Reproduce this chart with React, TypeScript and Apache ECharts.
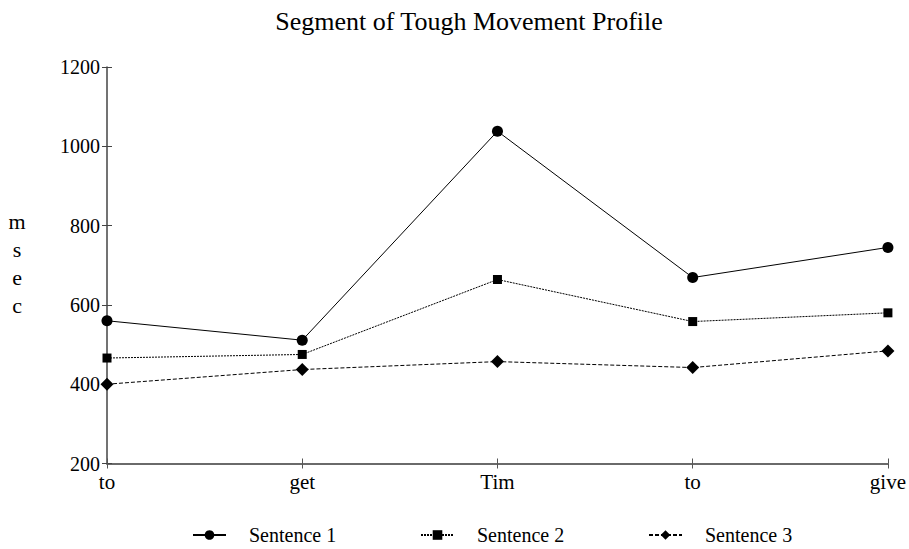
import React, { useEffect, useRef } from "react";
import * as echarts from "echarts";

const categories = ["to", "get", "Tim", "to", "give"];
const sentence1 = [560, 511, 1038, 669, 745];
const sentence2 = [466, 475, 664, 558, 580];
const sentence3 = [400, 437, 457, 442, 484];
const seriesNames = ["Sentence 1", "Sentence 2", "Sentence 3"];
const yTicks = { min: 200, max: 1200, interval: 200 };

const FONT = "'Liberation Serif', 'Times New Roman', serif";

export default function App() {
  const ref = useRef<HTMLDivElement>(null);
  useEffect(() => {
    document.body.style.margin = "0";
    document.body.style.overflow = "hidden";
    if (!ref.current) return;
    const chart = echarts.init(ref.current, null, { renderer: "svg" });
    const legendLefts = [192, 420, 648];
    const xLine = { color: "#6a6a6a", width: 2 };
    const yLine = { color: "#444", width: 1.5 };
    chart.setOption({
      animation: false,
      backgroundColor: "#fff",
      textStyle: { fontFamily: FONT, color: "#000" },
      title: {
        text: "Segment of Tough Movement Profile",
        left: 469,
        textAlign: "center",
        top: 8,
        padding: 0,
        textStyle: { fontFamily: FONT, fontSize: 26, fontWeight: "normal", color: "#000" },
      },
      legend: seriesNames.map((n, i) => ({
        data: [n],
        left: legendLefts[i],
        top: 525,
        padding: 0,
        itemWidth: 33,
        itemHeight: 12,
        textStyle: { fontFamily: FONT, fontSize: 20, color: "#000", padding: [0, 0, 0, 18] },
      })),
      grid: { left: 107, right: 18, top: 67, bottom: 85.5, containLabel: false },
      xAxis: [
        {
          type: "category",
          data: categories,
          boundaryGap: false,
          position: "bottom",
          axisLine: { lineStyle: xLine },
          axisTick: { show: true, alignWithLabel: true, length: 5, lineStyle: { color: "#555", width: 1 } },
          axisLabel: { fontFamily: FONT, fontSize: 21, color: "#000", margin: 8, showMaxLabel: true },
          splitLine: { show: false },
        },
        {
          type: "category",
          data: categories,
          boundaryGap: false,
          position: "bottom",
          axisLine: { show: false },
          axisTick: { show: true, inside: true, alignWithLabel: true, length: 5, lineStyle: { color: "#555", width: 1 } },
          axisLabel: { show: false },
          splitLine: { show: false },
        },
      ],
      yAxis: [
        {
          type: "value",
          min: yTicks.min,
          max: yTicks.max,
          interval: yTicks.interval,
          position: "left",
          axisLine: { show: true, lineStyle: yLine },
          axisTick: { show: true, length: 5, lineStyle: { color: "#444", width: 1 } },
          axisLabel: {
            fontFamily: FONT,
            fontSize: 20,
            color: "#000",
            margin: 7,
            formatter: (v: number) => String(v),
          },
          splitLine: { show: false },
        },
        {
          type: "value",
          min: yTicks.min,
          max: yTicks.max,
          interval: yTicks.interval,
          position: "left",
          axisLine: { show: false },
          axisTick: { show: true, inside: true, length: 5, lineStyle: { color: "#444", width: 1 } },
          axisLabel: { show: false },
          splitLine: { show: false },
        },
      ],
      graphic: [
        {
          type: "text",
          x: 17,
          y: 207,
          style: {
            text: "m\ns\ne\nc",
            font: `22px ${FONT}`,
            fill: "#000",
            lineHeight: 28,
            align: "center",
            verticalAlign: "top",
          },
        },
      ],
      series: [
        {
          name: seriesNames[0],
          type: "line",
          data: sentence1,
          symbol: "circle",
          symbolSize: 11,
          itemStyle: { color: "#000" },
          lineStyle: { color: "#000", width: 1, type: "solid" },
        },
        {
          name: seriesNames[1],
          type: "line",
          data: sentence2,
          symbol: "rect",
          symbolSize: 9,
          itemStyle: { color: "#000" },
          lineStyle: { color: "#000", width: 1, type: [2, 1] },
        },
        {
          name: seriesNames[2],
          type: "line",
          data: sentence3,
          symbol: "diamond",
          symbolSize: 13,
          itemStyle: { color: "#000" },
          lineStyle: { color: "#000", width: 1, type: [4, 2] },
        },
      ],
    });
    return () => chart.dispose();
  }, []);
  return <div ref={ref} style={{ width: 909, height: 549 }} />;
}
